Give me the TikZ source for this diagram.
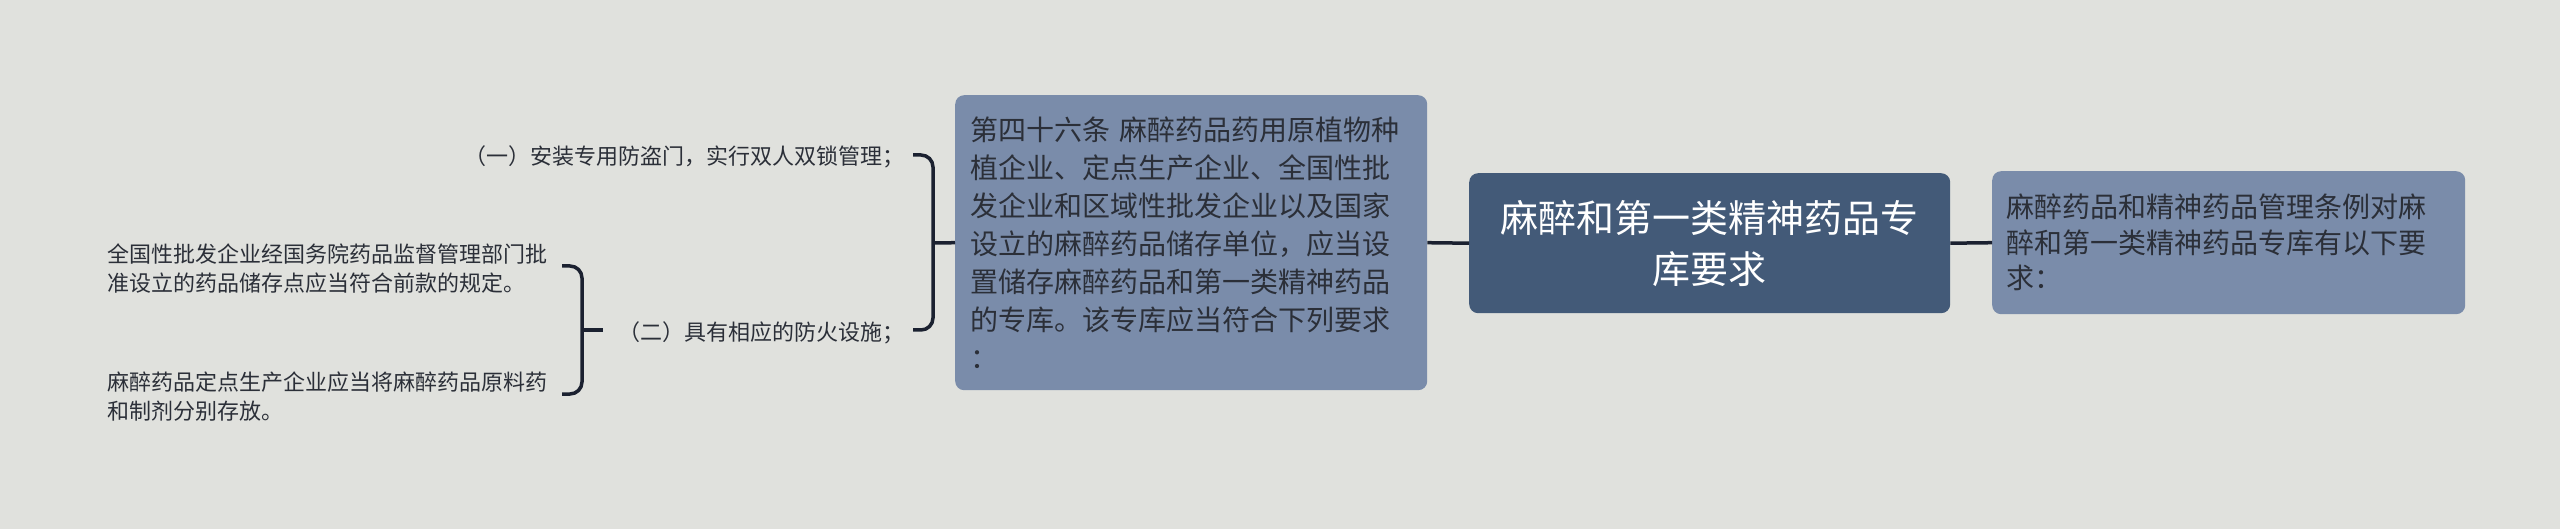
\documentclass[tikz,border=0pt]{standalone}
\usepackage{fontspec}
\setmainfont{Noto Sans CJK SC}
\definecolor{bg}{HTML}{E0E1DD}
\definecolor{rootc}{HTML}{435A78}
\definecolor{subc}{HTML}{7A8CAA}
\definecolor{linec}{HTML}{1B2130}
\definecolor{txt}{HTML}{2B2F38}
\begin{document}
\begin{tikzpicture}[x=1pt,y=-1pt,
  box/.style={rounded corners=9pt, inner sep=0pt, anchor=north west},
  conn/.style={draw=linec, line width=3.5pt},
  leaf/.style={inner sep=0pt, text=txt, font=\fontsize{22}{29}\selectfont}]
\fill[bg] (0,0) rectangle (2560,529);
\useasboundingbox (0,0) rectangle (2560,529);

\node[box, fill=rootc, minimum width=481pt, minimum height=140pt, text width=460pt,
      align=center, text=white, font=\fontsize{38}{51}\selectfont] (root) at (1469,173)
      {麻醉和第一类精神药品专\\库要求};

\node[box, fill=subc, minimum width=472pt, minimum height=295pt, text width=442pt,
      align=left, text=txt, font=\fontsize{28}{38}\selectfont] (mid) at (955,95)
      {第四十六条 麻醉药品药用原植物种\\植企业、定点生产企业、全国性批\\发企业和区域性批发企业以及国家\\设立的麻醉药品储存单位，应当设\\置储存麻醉药品和第一类精神药品\\的专库。该专库应当符合下列要求\\：};

\node[box, fill=subc, minimum width=473pt, minimum height=143pt, text width=445pt,
      align=left, text=txt, font=\fontsize{28}{35.5}\selectfont] (right) at (1992,171)
      {麻醉药品和精神药品管理条例对麻\\醉和第一类精神药品专库有以下要\\求：};

\node[leaf, anchor=east] (n1) at (905,157) {（一）安装专用防盗门，实行双人双锁管理；};
\node[leaf, anchor=east] (n2) at (905,333) {（二）具有相应的防火设施；};
\node[leaf, anchor=west, align=left] (n3) at (107,269) {全国性批发企业经国务院药品监督管理部门批\\准设立的药品储存点应当符合前款的规定。};
\node[leaf, anchor=west, align=left] (n4) at (107,397) {麻醉药品定点生产企业应当将麻醉药品原料药\\和制剂分别存放。};

\draw[conn] (mid.east) -- (root.west);
\draw[conn] (root.east) -- (right.west);

\coordinate (b1m) at (933,243);
\draw[conn, rounded corners=12pt] (913,155) -- (933,155) -- (933,330) -- (913,330);
\draw[conn] (b1m) -- (mid.west);

\coordinate (b2m) at (582,330);
\coordinate (b2e) at (603,330);
\draw[conn, rounded corners=12pt] (562,266) -- (582,266) -- (582,394) -- (562,394);
\draw[conn] (b2m) -- (b2e);
\end{tikzpicture}
\end{document}
